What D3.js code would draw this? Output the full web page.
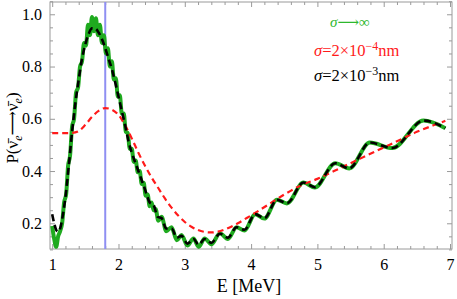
<!DOCTYPE html>
<html>
<head>
<meta charset="utf-8">
<script src="https://cdn.jsdelivr.net/npm/d3@7"></script>
<style>
  body { margin: 0; background: #fff; }
  text { font-family: "Liberation Serif", "DejaVu Serif", serif; }
</style>
</head>
<body>
<svg id="chart" width="457" height="299"></svg>
<script>
// ***** Data *****
// sigma -> infinity (green, fast wiggles near the peak)
const greenCurve = [
  [1.00, 0.19], [1.03, 0.14], [1.06, 0.11], [1.09, 0.15], [1.12, 0.17],
  [1.15, 0.20], [1.18, 0.28], [1.21, 0.31], [1.24, 0.42], [1.27, 0.46],
  [1.30, 0.57], [1.33, 0.60], [1.36, 0.70], [1.39, 0.72], [1.42, 0.80],
  [1.45, 0.82], [1.48, 0.89], [1.51, 0.88], [1.54, 0.96], [1.57, 0.92],
  [1.60, 0.99], [1.63, 0.935], [1.66, 0.985], [1.69, 0.92], [1.72, 0.96],
  [1.75, 0.89], [1.78, 0.92], [1.81, 0.85], [1.84, 0.87], [1.87, 0.80],
  [1.90, 0.82], [1.93, 0.75], [1.96, 0.755], [1.99, 0.685], [2.02, 0.69],
  [2.05, 0.62], [2.08, 0.62], [2.11, 0.55], [2.14, 0.545], [2.17, 0.485],
  [2.20, 0.485], [2.23, 0.435], [2.26, 0.44], [2.29, 0.395], [2.32, 0.40],
  [2.35, 0.35], [2.38, 0.355], [2.41, 0.305], [2.44, 0.31], [2.47, 0.265],
  [2.50, 0.28], [2.53, 0.25], [2.56, 0.255], [2.60, 0.21], [2.65, 0.225],
  [2.72, 0.17], [2.80, 0.185], [2.88, 0.135], [2.95, 0.155], [3.04, 0.115],
  [3.13, 0.142], [3.21, 0.11], [3.30, 0.142], [3.40, 0.12], [3.53, 0.162],
  [3.65, 0.14], [3.78, 0.185], [3.90, 0.172], [4.06, 0.235], [4.20, 0.218],
  [4.39, 0.29], [4.54, 0.276], [4.79, 0.356], [4.96, 0.337], [5.27, 0.43],
  [5.48, 0.41], [5.79, 0.509], [6.13, 0.488], [6.60, 0.593], [6.93, 0.564]
];

// sigma = 2e-4 nm (red dashed)
const redCurve = [
  [1.00, 0.545], [1.10, 0.545], [1.20, 0.545], [1.30, 0.546], [1.40, 0.553],
  [1.50, 0.577], [1.60, 0.607], [1.70, 0.630], [1.80, 0.641], [1.90, 0.635],
  [2.00, 0.615], [2.10, 0.575], [2.20, 0.525], [2.30, 0.470], [2.40, 0.420],
  [2.50, 0.375], [2.60, 0.335], [2.70, 0.295], [2.80, 0.260], [2.90, 0.230],
  [3.00, 0.205], [3.10, 0.187], [3.20, 0.174], [3.30, 0.167], [3.40, 0.165],
  [3.50, 0.168], [3.60, 0.176], [3.70, 0.187], [3.80, 0.200], [3.90, 0.215],
  [4.00, 0.230], [4.25, 0.270], [4.50, 0.310], [4.75, 0.345], [5.00, 0.370],
  [5.25, 0.400], [5.50, 0.430], [5.75, 0.460], [6.00, 0.490], [6.25, 0.520],
  [6.50, 0.550], [6.75, 0.575], [6.93, 0.592]
];

// sigma = 2e-3 nm (black dashed)
const blackCurve = [
  [1.00, 0.235], [1.03, 0.20], [1.06, 0.175], [1.09, 0.168], [1.12, 0.18],
  [1.16, 0.23], [1.20, 0.30], [1.25, 0.42], [1.30, 0.55], [1.35, 0.66],
  [1.40, 0.75], [1.45, 0.83], [1.50, 0.885], [1.55, 0.925], [1.60, 0.946],
  [1.65, 0.945], [1.70, 0.93], [1.75, 0.905], [1.80, 0.87], [1.85, 0.83],
  [1.90, 0.79], [1.95, 0.74], [2.00, 0.685], [2.05, 0.63], [2.10, 0.575],
  [2.15, 0.515], [2.20, 0.47], [2.25, 0.435], [2.30, 0.40], [2.35, 0.365],
  [2.40, 0.33], [2.47, 0.28], [2.53, 0.27], [2.59, 0.225], [2.65, 0.22],
  [2.72, 0.18], [2.80, 0.18], [2.88, 0.145], [2.95, 0.152], [3.04, 0.122],
  [3.13, 0.14], [3.21, 0.118], [3.30, 0.14], [3.40, 0.125], [3.53, 0.16],
  [3.65, 0.145], [3.78, 0.185], [3.90, 0.175], [4.06, 0.235], [4.20, 0.22],
  [4.39, 0.29], [4.54, 0.277], [4.79, 0.356], [4.96, 0.338], [5.27, 0.43],
  [5.48, 0.41], [5.79, 0.509], [6.13, 0.488], [6.60, 0.593], [6.93, 0.564]
];

const markerEnergy = 1.8;
const xTickValues = [1, 2, 3, 4, 5, 6, 7];
const yTickValues = [0.2, 0.4, 0.6, 0.8, 1.0];

// ***** Layout *****
const svg = d3.select("#chart");
const margin = { top: 2, right: 5, bottom: 50, left: 50 };
const width = 457 - margin.left - margin.right;
const height = 299 - margin.top - margin.bottom;
const serif = "'Liberation Serif', 'DejaVu Serif', serif";

const xScale = d3.scaleLinear().domain([0.967, 7.03]).range([0, width]);
const yScale = d3.scaleLinear().domain([0.1016, 1.047]).range([height, 0]);

const g = svg.append("g")
  .attr("transform", "translate(" + margin.left + "," + margin.top + ")");

g.append("clipPath").attr("id", "plotClip")
  .append("rect").attr("width", width).attr("height", height);

// ***** Frame ticks (all four sides, inward) *****
const frameColor = "#9a9a9a";
const xMinor = d3.range(1, 7.001, 0.2).filter(v => Math.abs(v - Math.round(v)) > 1e-6);
const yMinor = d3.range(0.1, 1.0501, 0.05).filter(v => Math.abs(v * 5 - Math.round(v * 5)) > 1e-6);

function styleAxis(sel) {
  sel.select(".domain").remove();
  sel.selectAll("line").attr("stroke", frameColor);
  sel.selectAll("text")
    .attr("fill", "#000")
    .style("font-size", "16px")
    .style("font-family", serif);
}

// bottom
g.append("g").attr("transform", "translate(0," + height + ")")
  .call(d3.axisBottom(xScale).tickValues(xTickValues).tickFormat(d3.format("d"))
    .tickSizeInner(-5).tickSizeOuter(0).tickPadding(10))
  .call(styleAxis);
g.append("g").attr("transform", "translate(0," + height + ")")
  .call(d3.axisBottom(xScale).tickValues(xMinor).tickFormat("").tickSizeInner(-3).tickSizeOuter(0))
  .call(styleAxis);
// top
g.append("g")
  .call(d3.axisTop(xScale).tickValues(xTickValues).tickFormat("").tickSizeInner(-5).tickSizeOuter(0))
  .call(styleAxis);
g.append("g")
  .call(d3.axisTop(xScale).tickValues(xMinor).tickFormat("").tickSizeInner(-3).tickSizeOuter(0))
  .call(styleAxis);
// left
g.append("g")
  .call(d3.axisLeft(yScale).tickValues(yTickValues).tickFormat(d3.format(".1f"))
    .tickSizeInner(-5).tickSizeOuter(0).tickPadding(8))
  .call(styleAxis);
g.append("g")
  .call(d3.axisLeft(yScale).tickValues(yMinor).tickFormat("").tickSizeInner(-3).tickSizeOuter(0))
  .call(styleAxis);
// right
g.append("g").attr("transform", "translate(" + width + ",0)")
  .call(d3.axisRight(yScale).tickValues(yTickValues).tickFormat("").tickSizeInner(-5).tickSizeOuter(0))
  .call(styleAxis);
g.append("g").attr("transform", "translate(" + width + ",0)")
  .call(d3.axisRight(yScale).tickValues(yMinor).tickFormat("").tickSizeInner(-3).tickSizeOuter(0))
  .call(styleAxis);

// frame box
g.append("rect")
  .attr("width", width).attr("height", height)
  .attr("fill", "none").attr("stroke", frameColor).attr("stroke-width", 1);

// ***** Curves *****
const plot = g.append("g").attr("clip-path", "url(#plotClip)");

// vertical marker line
plot.append("line")
  .attr("x1", xScale(markerEnergy)).attr("x2", xScale(markerEnergy))
  .attr("y1", 0).attr("y2", height)
  .attr("stroke", "#8f8ff2").attr("stroke-width", 2);

const smoothLine = d3.line()
  .x(d => xScale(d[0]))
  .y(d => yScale(d[1]))
  .curve(d3.curveMonotoneX);

plot.append("path")
  .datum(greenCurve)
  .attr("d", smoothLine)
  .attr("fill", "none")
  .attr("stroke", "#1faa1f")
  .attr("stroke-width", 4)
  .attr("stroke-linejoin", "round");

plot.append("path")
  .datum(redCurve)
  .attr("d", smoothLine)
  .attr("fill", "none")
  .attr("stroke", "#ff1a1a")
  .attr("stroke-width", 2.2)
  .attr("stroke-dasharray", "6,4");

plot.append("path")
  .datum(blackCurve)
  .attr("d", smoothLine)
  .attr("fill", "none")
  .attr("stroke", "#000")
  .attr("stroke-width", 2.6)
  .attr("stroke-dasharray", "7,4");

// ***** Legend *****
function sigmaLabel(y, color, expo) {
  const t = g.append("text")
    .attr("x", 264).attr("y", y)
    .attr("fill", color)
    .style("font-family", serif)
    .style("font-size", "16.5px");
  t.append("tspan").style("font-style", "italic").text("σ");
  t.append("tspan").text("=2×10");
  t.append("tspan").attr("dy", -6).style("font-size", "12px").text("−" + expo);
  t.append("tspan").attr("dy", 6).text("nm");
}

const infLabel = g.append("text")
  .attr("x", 280).attr("y", 25)
  .attr("fill", "#2db82d")
  .style("font-family", serif)
  .style("font-size", "15px");
infLabel.append("tspan").style("font-style", "italic").text("σ");
infLabel.append("tspan").text("⟶∞");

sigmaLabel(54, "#ff1a1a", 4);
sigmaLabel(79, "#000", 3);

// ***** Axis titles *****
svg.append("text")
  .attr("x", margin.left + xScale(4.0) - 2)
  .attr("y", 292)
  .attr("text-anchor", "middle")
  .style("font-family", serif)
  .style("font-size", "18px")
  .text("E [MeV]");

const yTitle = svg.append("text")
  .attr("transform", "translate(18," + (margin.top + 126) + ") rotate(-90)")
  .attr("text-anchor", "middle")
  .style("font-family", serif)
  .style("font-size", "17px");
yTitle.append("tspan").text("P(ν\u0304");
yTitle.append("tspan").attr("dy", 4).style("font-size", "12px").style("font-style", "italic").text("e");
yTitle.append("tspan").attr("dy", -4).text("⟶ν\u0304");
yTitle.append("tspan").attr("dy", 4).style("font-size", "12px").style("font-style", "italic").text("e");
yTitle.append("tspan").attr("dy", -4).text(")");
</script>
</body>
</html>
